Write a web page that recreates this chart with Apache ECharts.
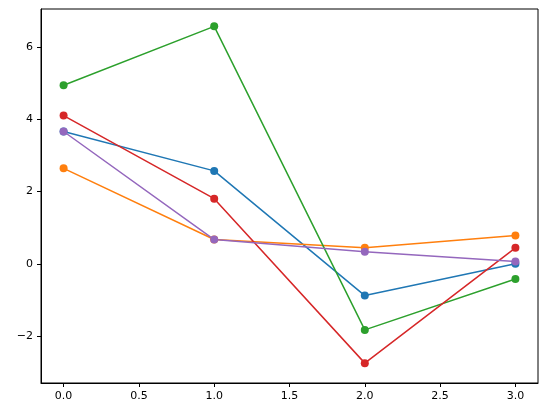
<!DOCTYPE html>
<html><head><meta charset="utf-8">
<script src="https://cdn.jsdelivr.net/npm/echarts@6/dist/echarts.min.js"></script>
</head><body style="margin:0">
<div id="c" style="width:546px;height:413px"></div>
<script>
const xs = [0, 1, 2, 3];
const blue = [3.66, 2.57, -0.88, 0.0];
const orange = [2.64, 0.67, 0.44, 0.78];
const green = [4.94, 6.57, -1.83, -0.42];
const red = [4.10, 1.80, -2.75, 0.44];
const purple = [3.66, 0.67, 0.33, 0.06];
const xTicks = [0, 0.5, 1, 1.5, 2, 2.5, 3];
const yTicks = [-2, 0, 2, 4, 6];
const colors = ['#1f77b4', '#ff7f0e', '#2ca02c', '#d62728', '#9467bd'];
const all = [blue, orange, green, red, purple];
const chart = echarts.init(document.getElementById('c'));
const axisCommon = {
  axisLine: {show: true, onZero: false, lineStyle: {color: '#000'}},
  axisTick: {show: true, length: 4, inside: false, lineStyle: {color: '#000'}},
  axisLabel: {color: '#000', fontSize: 11, fontFamily: 'DejaVu Sans'},
  splitLine: {show: false}
};
chart.setOption({
  animation: false,
  grid: {left: 41, right: 8, top: 9, bottom: 30, show: true, borderColor: '#000', borderWidth: 1},
  xAxis: Object.assign({}, axisCommon, {
    type: 'value', min: -0.15, max: 3.15,
    axisTick: Object.assign({}, axisCommon.axisTick, {customValues: xTicks}),
    axisLabel: Object.assign({}, axisCommon.axisLabel, {customValues: xTicks, formatter: v => v.toFixed(1)})
  }),
  yAxis: Object.assign({}, axisCommon, {
    type: 'value', min: -3.3, max: 7.05,
    axisTick: Object.assign({}, axisCommon.axisTick, {customValues: yTicks}),
    axisLabel: Object.assign({}, axisCommon.axisLabel, {customValues: yTicks, formatter: v => String(v).replace('-', '\u2212')})
  }),
  series: all.map((d, i) => ({
    type: 'line', data: xs.map((x, j) => [x, d[j]]),
    symbol: 'circle', symbolSize: 8,
    lineStyle: {color: colors[i], width: 1.5},
    itemStyle: {color: colors[i]}
  }))
});
</script></body></html>
